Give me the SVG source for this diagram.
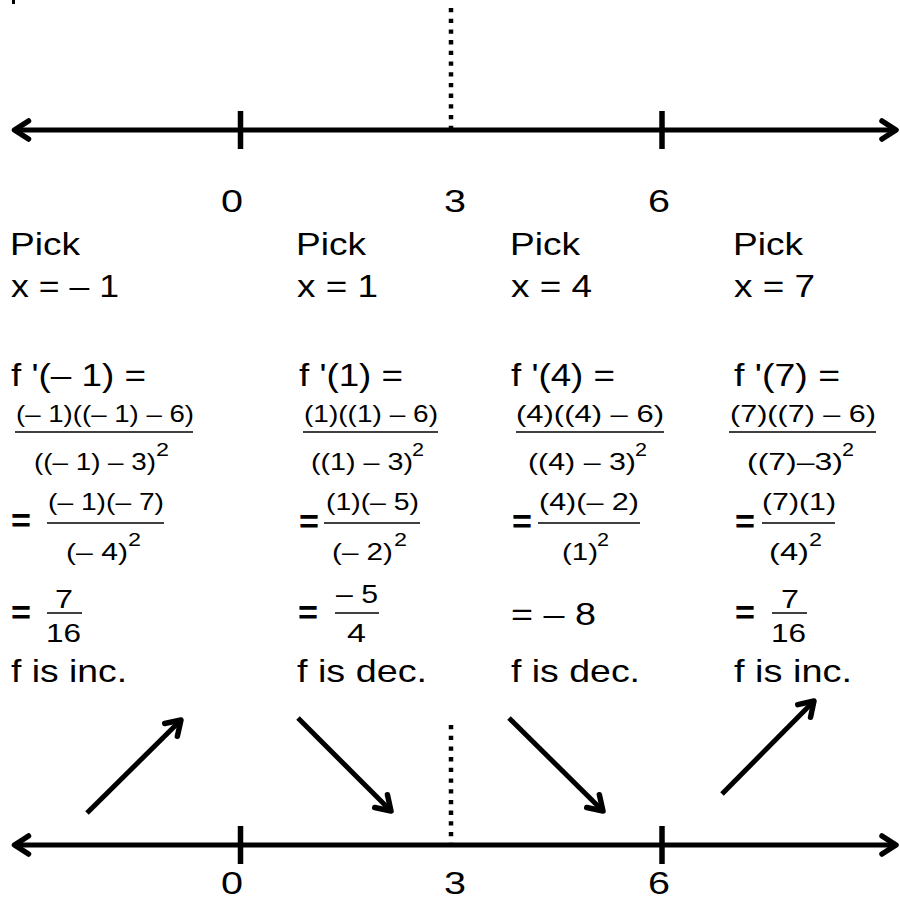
<svg xmlns="http://www.w3.org/2000/svg" width="900" height="899" viewBox="0 0 900 899">
<style>
text{font-family:"Liberation Sans",Arial,Helvetica,sans-serif;fill:#000}
.m{font-size:31px}
.b{font-size:32px}
.e{font-size:34px;font-weight:bold}
.f{font-size:24px}
.g{font-size:26px}
.s{font-size:19px}
.ax{stroke:#000;stroke-width:5;fill:none}
.tk{stroke:#000;stroke-width:5.5}
.dt{stroke:#000;stroke-width:4.5;stroke-dasharray:4.3 6.4}
.fl{stroke:#000;stroke-width:1.6}
.ar{stroke:#000;stroke-width:5;fill:none}
</style>
<defs>
<marker id="ah" markerUnits="userSpaceOnUse" orient="auto-start-reverse" overflow="visible" refX="0" refY="0" markerWidth="1" markerHeight="1">
<path d="M-14,-9 L0,0 L-14,9" fill="none" stroke="#000" stroke-width="5.5" stroke-linecap="round" stroke-linejoin="round"/>
</marker>
</defs>
<rect x="12" y="0" width="3" height="4" fill="#000"/>
<g id="top-axis">
<line class="ax" x1="14.5" y1="130" x2="896" y2="130" marker-start="url(#ah)" marker-end="url(#ah)"/>
<line class="tk" x1="240.5" y1="111" x2="240.5" y2="149"/>
<line class="tk" x1="662" y1="111" x2="662" y2="149"/>
<line class="dt" x1="451" y1="8" x2="451" y2="128"/>
<text class="m" x="221" y="212" textLength="22" lengthAdjust="spacingAndGlyphs">0</text>
<text class="m" x="444" y="212" textLength="22" lengthAdjust="spacingAndGlyphs">3</text>
<text class="m" x="648" y="212" textLength="22" lengthAdjust="spacingAndGlyphs">6</text>
</g>
<g id="col1">
<text class="m" x="10" y="255" textLength="70" lengthAdjust="spacingAndGlyphs">Pick</text>
<text class="m" x="11" y="297" textLength="108" lengthAdjust="spacingAndGlyphs">x = – 1</text>
<text class="m" x="11" y="386" textLength="135" lengthAdjust="spacingAndGlyphs">f '(– 1) =</text>
<text class="f" x="16" y="422" textLength="178" lengthAdjust="spacingAndGlyphs">(– 1)((– 1) – 6)</text>
<line class="fl" x1="15" y1="432" x2="193" y2="432"/>
<text class="f" x="34" y="470" textLength="122" lengthAdjust="spacingAndGlyphs">((– 1) – 3)</text>
<text class="s" x="156" y="456" textLength="13" lengthAdjust="spacingAndGlyphs">2</text>
<text class="e" x="11" y="532" textLength="20" lengthAdjust="spacingAndGlyphs">=</text>
<text class="f" x="48" y="510" textLength="116" lengthAdjust="spacingAndGlyphs">(– 1)(– 7)</text>
<line class="fl" x1="47" y1="523" x2="164" y2="523"/>
<text class="f" x="66" y="560" textLength="62" lengthAdjust="spacingAndGlyphs">(– 4)</text>
<text class="s" x="128" y="546" textLength="13" lengthAdjust="spacingAndGlyphs">2</text>
<text class="e" x="11" y="624" textLength="20" lengthAdjust="spacingAndGlyphs">=</text>
<text class="g" x="55" y="608" textLength="18" lengthAdjust="spacingAndGlyphs">7</text>
<line class="fl" x1="47" y1="613" x2="82" y2="613"/>
<text class="g" x="46" y="642" textLength="35" lengthAdjust="spacingAndGlyphs">16</text>
<text class="b" x="11" y="682" textLength="116" lengthAdjust="spacingAndGlyphs">f is inc.</text>
</g>
<g id="col2">
<text class="m" x="296" y="255" textLength="70" lengthAdjust="spacingAndGlyphs">Pick</text>
<text class="m" x="297" y="297" textLength="81" lengthAdjust="spacingAndGlyphs">x = 1</text>
<text class="m" x="299" y="386" textLength="104" lengthAdjust="spacingAndGlyphs">f '(1) =</text>
<text class="f" x="304" y="422" textLength="134" lengthAdjust="spacingAndGlyphs">(1)((1) – 6)</text>
<line class="fl" x1="303" y1="432" x2="438" y2="432"/>
<text class="f" x="311" y="470" textLength="102" lengthAdjust="spacingAndGlyphs">((1) – 3)</text>
<text class="s" x="412" y="456" textLength="12" lengthAdjust="spacingAndGlyphs">2</text>
<text class="e" x="299" y="533" textLength="20" lengthAdjust="spacingAndGlyphs">=</text>
<text class="f" x="326" y="510" textLength="93" lengthAdjust="spacingAndGlyphs">(1)(– 5)</text>
<line class="fl" x1="324" y1="523" x2="420" y2="523"/>
<text class="f" x="332" y="560" textLength="61" lengthAdjust="spacingAndGlyphs">(– 2)</text>
<text class="s" x="394" y="546" textLength="13" lengthAdjust="spacingAndGlyphs">2</text>
<text class="e" x="298" y="624" textLength="20" lengthAdjust="spacingAndGlyphs">=</text>
<text class="g" x="336" y="603" textLength="42" lengthAdjust="spacingAndGlyphs">– 5</text>
<line class="fl" x1="335" y1="613" x2="379" y2="613"/>
<text class="g" x="347" y="642" textLength="19" lengthAdjust="spacingAndGlyphs">4</text>
<text class="b" x="297" y="682" textLength="130" lengthAdjust="spacingAndGlyphs">f is dec.</text>
</g>
<g id="col3">
<text class="m" x="510" y="255" textLength="70" lengthAdjust="spacingAndGlyphs">Pick</text>
<text class="m" x="511" y="297" textLength="81" lengthAdjust="spacingAndGlyphs">x = 4</text>
<text class="m" x="511" y="386" textLength="104" lengthAdjust="spacingAndGlyphs">f '(4) =</text>
<text class="f" x="516" y="422" textLength="148" lengthAdjust="spacingAndGlyphs">(4)((4) – 6)</text>
<line class="fl" x1="516" y1="432" x2="664" y2="432"/>
<text class="f" x="528" y="470" textLength="108" lengthAdjust="spacingAndGlyphs">((4) – 3)</text>
<text class="s" x="635" y="456" textLength="12" lengthAdjust="spacingAndGlyphs">2</text>
<text class="e" x="512" y="533" textLength="20" lengthAdjust="spacingAndGlyphs">=</text>
<text class="f" x="539" y="510" textLength="100" lengthAdjust="spacingAndGlyphs">(4)(– 2)</text>
<line class="fl" x1="538" y1="523" x2="640" y2="523"/>
<text class="f" x="562" y="560" textLength="36" lengthAdjust="spacingAndGlyphs">(1)</text>
<text class="s" x="597" y="546" textLength="12" lengthAdjust="spacingAndGlyphs">2</text>
<text class="b" x="511" y="625" textLength="85" lengthAdjust="spacingAndGlyphs">= – 8</text>
<text class="b" x="511" y="682" textLength="129" lengthAdjust="spacingAndGlyphs">f is dec.</text>
</g>
<g id="col4">
<text class="m" x="733" y="255" textLength="70" lengthAdjust="spacingAndGlyphs">Pick</text>
<text class="m" x="734" y="297" textLength="81" lengthAdjust="spacingAndGlyphs">x = 7</text>
<text class="m" x="734" y="386" textLength="106" lengthAdjust="spacingAndGlyphs">f '(7) =</text>
<text class="f" x="730" y="422" textLength="146" lengthAdjust="spacingAndGlyphs">(7)((7) – 6)</text>
<line class="fl" x1="729" y1="432" x2="876" y2="432"/>
<text class="f" x="747" y="470" textLength="96" lengthAdjust="spacingAndGlyphs">((7)–3)</text>
<text class="s" x="842" y="456" textLength="12" lengthAdjust="spacingAndGlyphs">2</text>
<text class="e" x="735" y="533" textLength="20" lengthAdjust="spacingAndGlyphs">=</text>
<text class="f" x="762" y="510" textLength="74" lengthAdjust="spacingAndGlyphs">(7)(1)</text>
<line class="fl" x1="762" y1="523" x2="835" y2="523"/>
<text class="f" x="769" y="560" textLength="40" lengthAdjust="spacingAndGlyphs">(4)</text>
<text class="s" x="809" y="546" textLength="13" lengthAdjust="spacingAndGlyphs">2</text>
<text class="e" x="735" y="624" textLength="20" lengthAdjust="spacingAndGlyphs">=</text>
<text class="g" x="781" y="608" textLength="18" lengthAdjust="spacingAndGlyphs">7</text>
<line class="fl" x1="772" y1="613" x2="807" y2="613"/>
<text class="g" x="771" y="642" textLength="35" lengthAdjust="spacingAndGlyphs">16</text>
<text class="b" x="734" y="682" textLength="118" lengthAdjust="spacingAndGlyphs">f is inc.</text>
</g>
<g id="connectors">
<line class="ar" x1="87" y1="813" x2="181" y2="720" marker-end="url(#ah)"/>
<line class="ar" x1="298" y1="718" x2="391" y2="811" marker-end="url(#ah)"/>
<line class="ar" x1="509" y1="718" x2="603" y2="811" marker-end="url(#ah)"/>
<line class="ar" x1="722" y1="794" x2="814" y2="701" marker-end="url(#ah)"/>
</g>
<g id="bottom-axis">
<line class="ax" x1="14.5" y1="845" x2="896" y2="845" marker-start="url(#ah)" marker-end="url(#ah)"/>
<line class="tk" x1="240.5" y1="826" x2="240.5" y2="864"/>
<line class="tk" x1="662" y1="826" x2="662" y2="864"/>
<line class="dt" x1="451" y1="725" x2="451" y2="843"/>
<text class="m" x="221" y="894" textLength="22" lengthAdjust="spacingAndGlyphs">0</text>
<text class="m" x="444" y="894" textLength="22" lengthAdjust="spacingAndGlyphs">3</text>
<text class="m" x="648" y="894" textLength="22" lengthAdjust="spacingAndGlyphs">6</text>
</g>
</svg>
